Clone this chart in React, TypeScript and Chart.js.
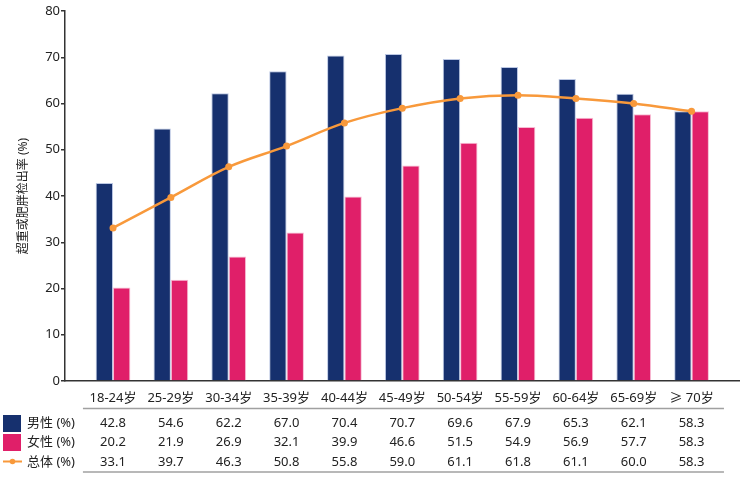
import React, { useEffect, useRef } from "react";
import { Chart, registerables } from "chart.js";

Chart.register(...registerables);

const categories = ["18-24岁", "25-29岁", "30-34岁", "35-39岁", "40-44岁", "45-49岁", "50-54岁", "55-59岁", "60-64岁", "65-69岁", "≥ 70岁"];
const maleValues = [42.8, 54.6, 62.2, 67.0, 70.4, 70.7, 69.6, 67.9, 65.3, 62.1, 58.3];
const femaleValues = [20.2, 21.9, 26.9, 32.1, 39.9, 46.6, 51.5, 54.9, 56.9, 57.7, 58.3];
const totalValues = [33.1, 39.7, 46.3, 50.8, 55.8, 59.0, 61.1, 61.8, 61.1, 60.0, 58.3];
const seriesNames = ["男性 (%)", "女性 (%)", "总体 (%)"];
const yTitle = "超重或肥胖检出率 (%)";

const NAVY = "#16306e";
const PINK = "#e01f69";
const ORANGE = "#f8993b";
const FONT = '"Noto Sans", "Noto Sans CJK SC", sans-serif';

const tablePlugin = {
  id: "tablePlugin",
  afterDraw(chart: any) {
    const ctx = chart.ctx;
    const xs = chart.scales.x;
    ctx.save();
    ctx.font = `13px ${FONT}`;
    ctx.fillStyle = "#222";
    ctx.textAlign = "center";
    ctx.textBaseline = "middle";
    const rows = [maleValues, femaleValues, totalValues];
    const rowY = [423, 442, 462];
    categories.forEach((c, i) => {
      const x = xs.getPixelForValue(i);
      ctx.fillText(c, x, 398);
      rows.forEach((r, k) => ctx.fillText(r[i].toFixed(1), x, rowY[k]));
    });
    // lines
    const x0 = xs.getPixelForValue(-0.52);
    const x1 = xs.getPixelForValue(10.56);
    ctx.strokeStyle = "#a0a0a0";
    ctx.lineWidth = 1.5;
    [408.5, 472].forEach((y) => {
      ctx.beginPath();
      ctx.moveTo(x0, y);
      ctx.lineTo(x1, y);
      ctx.stroke();
    });
    // legend
    ctx.fillStyle = NAVY;
    ctx.fillRect(3, 415, 18, 17);
    ctx.fillStyle = PINK;
    ctx.fillRect(3, 434, 18, 17);
    ctx.strokeStyle = ORANGE;
    ctx.lineWidth = 2;
    ctx.beginPath();
    ctx.moveTo(3, 461.5);
    ctx.lineTo(22, 461.5);
    ctx.stroke();
    ctx.fillStyle = ORANGE;
    ctx.beginPath();
    ctx.arc(12.5, 461.5, 2.8, 0, Math.PI * 2);
    ctx.fill();
    ctx.fillStyle = "#222";
    ctx.textAlign = "left";
    seriesNames.forEach((n, k) => ctx.fillText(n, 27, rowY[k]));
    ctx.restore();
  },
};

export default function App() {
  const ref = useRef<HTMLCanvasElement | null>(null);
  useEffect(() => {
    document.body.style.margin = "0";
    Chart.defaults.font.family = FONT;
    const chart = new Chart(ref.current as HTMLCanvasElement, {
      type: "bar",
      data: {
        datasets: [
          {
            type: "line",
            label: seriesNames[2],
            data: totalValues.map((v, i) => ({ x: i, y: v })),
            borderColor: ORANGE,
            backgroundColor: ORANGE,
            borderWidth: 2.5,
            pointRadius: 3.5,
            pointBorderWidth: 0,
            tension: 0.35,
            order: 0,
          } as any,
          {
            label: seriesNames[0],
            data: maleValues.map((v, i) => ({ x: i, y: v })),
            backgroundColor: NAVY,
            borderColor: "rgba(170,185,220,0.8)",
            borderWidth: 1,
            categoryPercentage: 0.6,
            barPercentage: 1,
            order: 1,
          },
          {
            label: seriesNames[1],
            data: femaleValues.map((v, i) => ({ x: i, y: v })),
            backgroundColor: PINK,
            borderColor: "rgba(245,170,200,0.8)",
            borderWidth: 1,
            categoryPercentage: 0.6,
            barPercentage: 1,
            order: 1,
          },
        ],
      },
      options: {
        responsive: false,
        animation: false,
        layout: { padding: { top: 11, left: 0, right: 0, bottom: 0 } },
        plugins: { legend: { display: false }, tooltip: { enabled: false } },
        scales: {
          x: {
            type: "linear",
            min: -0.83,
            max: 10.82,
            offset: false,
            grid: { display: false, offset: false },
            ticks: { display: false },
            border: { display: true, color: "#333", width: 1.5 },
            afterFit: (s: any) => {
              s.height = 100;
            },
          },
          y: {
            min: 0,
            max: 80,
            ticks: { stepSize: 10, font: { size: 13 }, color: "#222", padding: 1 },
            grid: { display: true, drawOnChartArea: false, drawTicks: true, tickLength: 4, color: "#333", lineWidth: 1.5 },
            border: { display: true, color: "#333", width: 1.5 },
            title: { display: true, text: yTitle, font: { size: 12 }, color: "#222", padding: { top: 16, bottom: 0 } },
            afterFit: (s: any) => {
              s.width = 65;
            },
          },
        },
      },
      plugins: [tablePlugin],
    });
    return () => chart.destroy();
  }, []);
  return (
    <div style={{ position: "fixed", left: 0, top: 0, width: 743, height: 481 }}>
      <canvas ref={ref} width={743} height={481} style={{ width: 743, height: 481 }} />
    </div>
  );
}
